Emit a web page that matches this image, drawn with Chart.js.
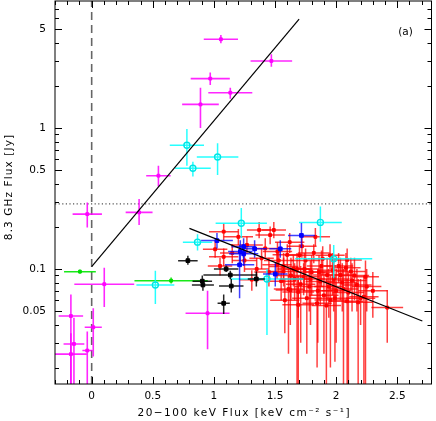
<!DOCTYPE html>
<html>
<head>
<meta charset="utf-8">
<title>8.3 GHz vs 20-100 keV flux</title>
<script src="https://cdn.jsdelivr.net/npm/chart.js@4.4.1/dist/chart.umd.min.js"></script>
<style>
  html, body { margin: 0; padding: 0; background: #fff; }
  #wrap { width: 436px; height: 421px; }
</style>
</head>
<body>
<div id="wrap"><canvas id="fluxChart"></canvas></div>
<script>
// axis ticks
const xTicks = [0, 0.5, 1, 1.5, 2, 2.5];
const yTicks = [0.05, 0.1, 0.5, 1, 5];
const yMinor = [0.02, 0.03, 0.04, 0.06, 0.07, 0.08, 0.09, 0.2, 0.3, 0.4, 0.6, 0.7, 0.8, 0.9, 2, 3, 4, 6, 7];

// magenta
const magX = [1.057, 1.47, 0.97, 1.134, 0.89, 0.546, -0.036, 0.388, 0.103, -0.17, -0.145, -0.17, -0.036, 0.013, 0.948];
const magY = [4.26, 2.99, 2.24, 1.78, 1.47, 0.459, 0.245, 0.252, 0.078, 0.0464, 0.0294, 0.0249, 0.0264, 0.0386, 0.0485];
const magXerr = [0.14, 0.17, 0.16, 0.18, 0.15, 0.1, 0.12, 0.11, 0.245, 0.1, 0.085, 0.13, 0.04, 0.07, 0.18];
const magYlo = [3.99, 2.72, 2.02, 1.61, 1.0, 0.384, 0.197, 0.205, 0.0537, 0.01, 0.01, 0.01, 0.01, 0.0239, 0.027];
const magYhi = [4.56, 3.33, 2.48, 1.93, 1.93, 0.54, 0.296, 0.314, 0.102, 0.066, 0.045, 0.035, 0.036, 0.0527, 0.07];

// cyan
const cyanX = [0.779, 1.03, 0.828, 0.521, 0.866, 1.224, 1.871, 1.98, 1.434];
const cyanY = [0.754, 0.623, 0.518, 0.077, 0.155, 0.211, 0.214, 0.118, 0.085];
const cyanXerr = [0.14, 0.17, 0.146, 0.155, 0.12, 0.21, 0.175, 0.315, 0.3];
const cyanYlo = [0.54, 0.464, 0.452, 0.0565, 0.135, 0.166, 0.156, 0.086, 0.034];
const cyanYhi = [0.984, 0.779, 0.577, 0.097, 0.176, 0.271, 0.277, 0.148, 0.1];

// green
const greenX = [-0.096, 0.65];
const greenY = [0.0957, 0.0826];
const greenXerr = [0.13, 0.3];
const greenYlo = [0.093, 0.079];
const greenYhi = [0.099, 0.087];

// black
const blackX = [0.787, 0.905, 0.91, 1.10, 1.134, 1.142, 1.08, 1.347];
const blackY = [0.1146, 0.082, 0.077, 0.100, 0.0906, 0.0757, 0.0571, 0.085];
const blackXerr = [0.08, 0.08, 0.09, 0.10, 0.22, 0.10, 0.05, 0.07];
const blackYlo = [0.107, 0.075, 0.07, 0.095, 0.085, 0.068, 0.048, 0.075];
const blackYhi = [0.124, 0.09, 0.085, 0.106, 0.097, 0.085, 0.066, 0.096];

// blue
const blueX = [1.025, 1.243, 1.216, 1.243, 1.333, 1.543, 1.716, 1.21, 1.502];
const blueY = [0.159, 0.144, 0.133, 0.128, 0.139, 0.139, 0.173, 0.107, 0.092];
const blueXerr = [0.13, 0.10, 0.10, 0.12, 0.10, 0.09, 0.11, 0.12, 0.10];
const blueYlo = [0.14, 0.12, 0.11, 0.105, 0.12, 0.12, 0.141, 0.062, 0.075];
const blueYhi = [0.18, 0.165, 0.16, 0.15, 0.16, 0.16, 0.212, 0.148, 0.11];

// red
const redX = [1.08, 1.01, 1.08, 1.20, 1.37, 1.46, 1.27, 1.39, 1.52, 1.31, 1.05, 1.49, 1.83, 1.817, 1.60, 1.57, 1.734,
  1.87, 2.035, 2.17, 1.94, 1.69, 1.516, 2.12, 2.09, 2.418, 1.61, 1.69, 1.953, 2.227, 2.09, 1.844, 1.926, 2.2, 1.625,
  1.57, 1.55, 1.65, 1.75, 1.78, 1.80, 1.88, 1.90, 1.98, 2.00, 2.05, 2.15, 2.25, 1.70, 1.45, 1.42, 1.62, 1.95, 1.85,
  1.76, 2.10, 1.92, 1.66, 2.30, 1.35, 1.15, 1.25, 1.72, 2.02, 1.58, 2.18,
  1.63, 1.71, 1.79, 1.86, 1.97, 2.06, 2.13, 2.24, 1.68, 1.74, 1.89, 2.08, 1.53, 1.99];
const redY = [0.184, 0.138, 0.122, 0.169, 0.189, 0.174, 0.148, 0.119, 0.133, 0.084, 0.105, 0.189, 0.169, 0.13, 0.126,
  0.096, 0.088, 0.0815, 0.0906, 0.077, 0.075, 0.0688, 0.107, 0.096, 0.116, 0.0532, 0.072, 0.0557, 0.0602, 0.0636,
  0.059, 0.0571, 0.0906, 0.0619, 0.0708, 0.104, 0.082, 0.10, 0.115, 0.075, 0.095, 0.105, 0.065, 0.085, 0.070, 0.080,
  0.090, 0.075, 0.125, 0.095, 0.140, 0.155, 0.125, 0.070, 0.062, 0.068, 0.055, 0.085, 0.070, 0.100, 0.130, 0.115,
  0.145, 0.105, 0.060, 0.058,
  0.090, 0.078, 0.085, 0.095, 0.098, 0.072, 0.083, 0.088, 0.100, 0.100, 0.118, 0.102, 0.115, 0.062];
const redXerr = [0.12, 0.10, 0.12, 0.12, 0.10, 0.12, 0.13, 0.10, 0.12, 0.10, 0.10, 0.10, 0.12, 0.13, 0.12, 0.12, 0.13,
  0.12, 0.13, 0.12, 0.12, 0.13, 0.12, 0.12, 0.12, 0.13, 0.12, 0.13, 0.13, 0.12, 0.13, 0.12, 0.12, 0.12, 0.12, 0.12,
  0.12, 0.13, 0.12, 0.12, 0.13, 0.12, 0.12, 0.13, 0.12, 0.12, 0.12, 0.12, 0.12, 0.12, 0.10, 0.12, 0.12, 0.12, 0.12,
  0.13, 0.12, 0.12, 0.12, 0.10, 0.10, 0.10, 0.12, 0.12, 0.12, 0.12,
  0.12, 0.12, 0.12, 0.12, 0.12, 0.12, 0.12, 0.11, 0.12, 0.12, 0.12, 0.12, 0.12, 0.12];
const redYlo = [0.16, 0.12, 0.105, 0.148, 0.165, 0.15, 0.128, 0.10, 0.112, 0.07, 0.09, 0.165, 0.145, 0.11, 0.105,
  0.075, 0.065, 0.055, 0.06, 0.05, 0.045, 0.045, 0.085, 0.07, 0.09, 0.03, 0.025, 0.01, 0.02, 0.012, 0.01, 0.02, 0.06,
  0.04, 0.04, 0.08, 0.06, 0.075, 0.09, 0.05, 0.065, 0.075, 0.025, 0.05, 0.03, 0.05, 0.06, 0.05, 0.10, 0.075, 0.12,
  0.13, 0.10, 0.03, 0.025, 0.01, 0.015, 0.06, 0.045, 0.08, 0.11, 0.095, 0.12, 0.08, 0.035, 0.01,
  0.06, 0.03, 0.04, 0.06, 0.065, 0.01, 0.05, 0.012, 0.01, 0.07, 0.09, 0.07, 0.09, 0.022];
const redYhi = [0.21, 0.16, 0.14, 0.192, 0.215, 0.20, 0.17, 0.14, 0.155, 0.098, 0.12, 0.215, 0.195, 0.15, 0.15, 0.12,
  0.11, 0.105, 0.12, 0.10, 0.10, 0.09, 0.13, 0.12, 0.14, 0.071, 0.10, 0.085, 0.09, 0.09, 0.085, 0.085, 0.12, 0.085,
  0.10, 0.13, 0.105, 0.125, 0.14, 0.10, 0.125, 0.135, 0.095, 0.12, 0.10, 0.11, 0.12, 0.10, 0.15, 0.12, 0.165, 0.18,
  0.15, 0.10, 0.09, 0.095, 0.085, 0.11, 0.095, 0.12, 0.15, 0.135, 0.17, 0.13, 0.085, 0.085,
  0.12, 0.105, 0.115, 0.125, 0.13, 0.10, 0.11, 0.115, 0.13, 0.13, 0.145, 0.13, 0.14, 0.09];

// fitted lines and reference lines
const fitAX = [0, 1.697];
const fitAY = [0.104, 5.93];
const fitBX = [0.8, 2.705];
const fitBY = [0.194, 0.0428];
const zeroLineX = [0, 0];
const zeroLineY = [0.01528, 7.96];
const radioLimitX = [-0.3, 2.78];
const radioLimitY = [0.29, 0.29];

function pts(xs, ys, xe, ylo, yhi) {
  return xs.map((v, i) => ({ x: v, y: ys[i], xe: xe[i], ylo: ylo[i], yhi: yhi[i] }));
}

function line(xs, ys) {
  return xs.map((v, i) => ({ x: v, y: ys[i] }));
}

const font = 'DejaVu Sans';

// crosses without caps, drawn right before each dataset's markers
const errorBars = {
  id: 'errorBars',
  beforeDatasetDraw(chart, args) {
    const ds = chart.data.datasets[args.index];
    if (!ds.errColor) return;
    const xs = chart.scales.x, ys = chart.scales.y, ctx = chart.ctx, a = chart.chartArea;
    ctx.save();
    ctx.beginPath();
    ctx.rect(a.left, a.top, a.right - a.left, a.bottom - a.top);
    ctx.clip();
    ctx.strokeStyle = ds.errColor;
    ctx.lineWidth = ds.errWidth || 1.5;
    ds.data.forEach(p => {
      const px = xs.getPixelForValue(p.x), py = ys.getPixelForValue(p.y);
      ctx.beginPath();
      ctx.moveTo(xs.getPixelForValue(p.x - p.xe), py);
      ctx.lineTo(xs.getPixelForValue(p.x + p.xe), py);
      ctx.moveTo(px, ys.getPixelForValue(p.ylo));
      ctx.lineTo(px, ys.getPixelForValue(p.yhi));
      ctx.stroke();
    });
    ctx.restore();
  }
};

// box, inward ticks on all four sides, axis titles
const frame = {
  id: 'frame',
  afterDraw(chart) {
    const ctx = chart.ctx, a = chart.chartArea, xs = chart.scales.x, ys = chart.scales.y;
    ctx.save();
    ctx.strokeStyle = '#000';
    ctx.lineWidth = 1;
    ctx.strokeRect(a.left, a.top, a.right - a.left, a.bottom - a.top);
    ctx.beginPath();
    for (let v = -0.3; v <= 2.78; v += 0.1) {
      const t = Math.round(v * 10) / 10;
      const len = Math.abs(t * 2 - Math.round(t * 2)) < 1e-6 ? 7 : 4;
      const px = Math.round(xs.getPixelForValue(t)) + 0.5;
      ctx.moveTo(px, a.bottom); ctx.lineTo(px, a.bottom - len);
      ctx.moveTo(px, a.top); ctx.lineTo(px, a.top + len);
    }
    yTicks.concat(yMinor).forEach(v => {
      const len = yTicks.includes(v) ? 7 : 4;
      const py = Math.round(ys.getPixelForValue(v)) + 0.5;
      ctx.moveTo(a.left, py); ctx.lineTo(a.left + len, py);
      ctx.moveTo(a.right, py); ctx.lineTo(a.right - len, py);
    });
    ctx.stroke();

    ctx.fillStyle = '#000';
    ctx.font = '10.5px "' + font + '"';
    ctx.textAlign = 'center';
    ctx.textBaseline = 'middle';
    ctx.fillText('(a)', 405.5, 32);
    ctx.letterSpacing = '1.5px';
    ctx.fillText('20\u2212100 keV Flux [keV cm\u207B\u00B2 s\u207B\u00B9]', (a.left + a.right) / 2 + 1, 413);
    ctx.letterSpacing = '1.1px';
    ctx.translate(9, 187);
    ctx.rotate(-Math.PI / 2);
    ctx.fillText('8.3 GHz Flux [Jy]', 0, 0);
    ctx.restore();
  }
};

const ctx = document.getElementById('fluxChart').getContext('2d');
new Chart(ctx, {
  type: 'scatter',
  data: {
    datasets: [
      { data: line(fitAX, fitAY), showLine: true, borderColor: '#000', borderWidth: 1.2, pointRadius: 0 },
      { data: line(fitBX, fitBY), showLine: true, borderColor: '#000', borderWidth: 1.2, pointRadius: 0 },
      { data: pts(blueX, blueY, blueXerr, blueYlo, blueYhi), errColor: 'rgba(0,0,255,0.75)',
        pointStyle: 'rect', pointRadius: 2.6, backgroundColor: '#0000ff', borderColor: '#0000ff', borderWidth: 1 },
      { data: pts(blackX, blackY, blackXerr, blackYlo, blackYhi), errColor: 'rgba(0,0,0,0.85)',
        pointStyle: 'rect', pointRadius: 2.6, backgroundColor: '#000', borderColor: '#000', borderWidth: 1 },
      { data: pts(cyanX, cyanY, cyanXerr, cyanYlo, cyanYhi), errColor: 'rgba(0,255,255,0.85)',
        pointStyle: 'circle', pointRadius: 3, backgroundColor: 'rgba(0,0,0,0)', borderColor: '#00e5e5', borderWidth: 1.4 },
      { data: pts(redX, redY, redXerr, redYlo, redYhi), errColor: 'rgba(255,0,0,0.75)',
        pointStyle: 'rect', pointRadius: 2, backgroundColor: '#ff0000', borderColor: '#ff0000', borderWidth: 1 },
      { data: pts(greenX, greenY, greenXerr, greenYlo, greenYhi), errColor: 'rgba(0,230,0,0.9)',
        pointStyle: 'rect', pointRadius: 2, backgroundColor: '#00dd00', borderColor: '#00dd00', borderWidth: 1 },
      { data: pts(magX, magY, magXerr, magYlo, magYhi), errColor: 'rgba(255,0,255,0.85)', errWidth: 1.6,
        pointStyle: 'rect', pointRadius: 2, backgroundColor: '#ff00ff', borderColor: '#ff00ff', borderWidth: 1 },
      { data: line(zeroLineX, zeroLineY), showLine: true, borderColor: '#666', borderWidth: 1.6,
        borderDash: [8, 5], pointRadius: 0 },
      { data: line(radioLimitX, radioLimitY), showLine: true, borderColor: '#555', borderWidth: 1.2,
        borderDash: [1.2, 2.4], pointRadius: 0 }
    ]
  },
  options: {
    responsive: true,
    maintainAspectRatio: false,
    animation: false,
    events: [],
    layout: { autoPadding: false, padding: { top: 1, right: 4.5, left: 0, bottom: 0 } },
    plugins: { legend: { display: false }, tooltip: { enabled: false } },
    scales: {
      x: {
        type: 'linear',
        min: -0.3,
        max: 2.78,
        afterFit: s => { s.height = 37; s.paddingLeft = 0; s.paddingRight = 0; },
        afterBuildTicks: s => { s.ticks = xTicks.map(v => ({ value: v })); },
        grid: { display: false, drawTicks: false },
        border: { display: false },
        ticks: { color: '#000', padding: 6, maxRotation: 0, font: { family: font, size: 10.5 },
          callback: v => String(v) }
      },
      y: {
        type: 'logarithmic',
        min: 0.01528,
        max: 7.96,
        afterFit: s => { s.width = 55; s.paddingTop = 0; s.paddingBottom = 0; },
        afterBuildTicks: s => { s.ticks = yTicks.map(v => ({ value: v })); },
        grid: { display: false, drawTicks: false },
        border: { display: false },
        ticks: { color: '#000', padding: 9, font: { family: font, size: 10.5 },
          callback: v => String(v) }
      }
    }
  },
  plugins: [errorBars, frame]
});
</script>
</body>
</html>
